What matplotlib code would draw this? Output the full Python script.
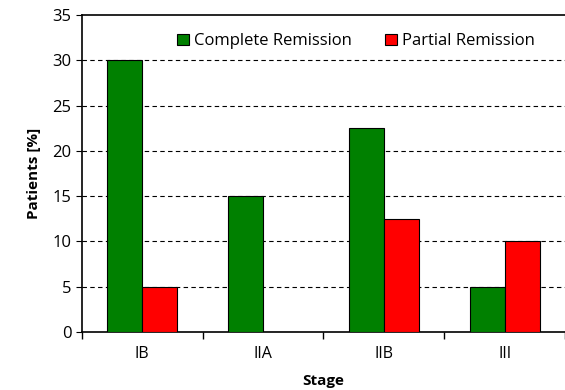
import numpy as np
import matplotlib.pyplot as plt

plt.rcParams['font.family'] = ['Open Sans', 'DejaVu Sans']

# Data
stages = ["IB", "IIA", "IIB", "III"]
complete = [30, 15, 22.5, 5]
partial = [5, 0, 12.5, 10]

x = np.arange(len(stages))
w = 0.29

fig = plt.figure(figsize=(5.65, 3.9), dpi=100)
ax = fig.add_axes([0.145, 0.149, 0.855, 0.8125])

ax.bar(x - w / 2, complete, w, color="#008000", edgecolor="black", linewidth=0.8,
       label="Complete Remission", zorder=3)
ax.bar(x + w / 2, partial, w, color="#ff0000", edgecolor="black", linewidth=0.8,
       label="Partial Remission", zorder=3)

ax.set_xlim(-0.5, 3.5)
ax.set_ylim(0, 35)
ax.set_yticks(range(0, 40, 5))
ax.set_xticks(x)
ax.set_xticklabels(stages)
ax.set_xticks(np.arange(-0.5, 4, 1), minor=True)
ax.tick_params(axis="x", which="major", length=0, pad=10, labelsize=11.5)
ax.tick_params(axis="x", which="minor", length=5, direction="out", width=1)
ax.tick_params(axis="y", length=4, direction="out", labelsize=12)

for y in range(5, 35, 5):
    ax.axhline(y, color="black", linestyle=(0, (4, 3)), linewidth=0.8, zorder=1)

ax.spines["right"].set_visible(False)
for s in ["left", "bottom", "top"]:
    ax.spines[s].set_linewidth(1.2)

ax.set_ylabel("Patients [%]", fontweight="bold", fontsize=11, labelpad=8)
ax.set_xlabel("Stage", fontweight="bold", fontsize=11, labelpad=9)

ax.legend(loc="upper center", bbox_to_anchor=(0.567, 0.99), ncol=2, frameon=False,
          fontsize=12, handlelength=0.7, handleheight=0.7, handletextpad=0.3,
          columnspacing=2.0)

plt.savefig("out.png", dpi=100)
